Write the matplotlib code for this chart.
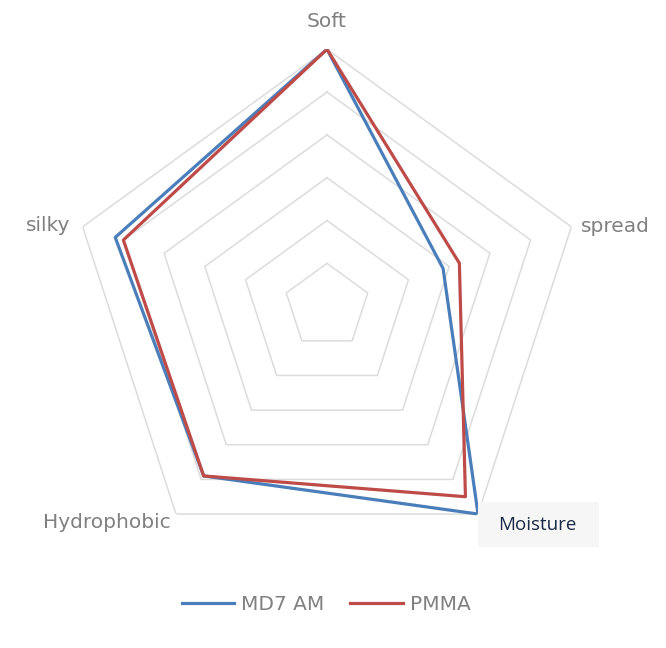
import numpy as np
import matplotlib
matplotlib.use("Agg")
import matplotlib.pyplot as plt
from matplotlib.patches import Rectangle

# radar chart data (0-6 scale, no ring labels shown)
categories = ["Soft", "spread", "Moisture", "Hydrophobic", "silky"]
md7_am = [6.0, 2.85, 6.0, 4.9, 5.2]
pmma = [6.0, 3.25, 5.5, 4.9, 5.0]
rings = [1, 2, 3, 4, 5, 6]

W, H = 666, 648
fig = plt.figure(figsize=(W / 100, H / 100), dpi=100)
ax = fig.add_axes([0.105, 0.131, 0.772, 0.793], projection="polar")
ax.set_theta_zero_location("N")
ax.set_theta_direction(-1)
ax.set_ylim(0, 6)
ax.grid(False)
ax.spines["polar"].set_visible(False)
ax.set_xticks([])
ax.set_yticks([])
ax.patch.set_alpha(0)

n = len(categories)
theta = np.linspace(0, 2 * np.pi, n, endpoint=False)
theta_c = np.append(theta, theta[0])

# pentagon grid rings
for r in rings:
    ax.plot(theta_c, [r] * (n + 1), color="#dcdcdc", lw=1.1, zorder=1)

# series
ax.plot(theta_c, md7_am + md7_am[:1], color="#4a7ebb", lw=2.3, zorder=3,
        label="MD7 AM")
ax.plot(theta_c, pmma + pmma[:1], color="#be4b48", lw=2.3, zorder=4,
        label="PMMA")

grey = "#808080"
fs = 14.5
# category labels, offset from the outer vertices
ax.annotate("Soft", xy=(theta[0], 6), xytext=(0, 22), textcoords="offset pixels",
            ha="center", va="baseline", color=grey, fontsize=fs)
ax.annotate("spread", xy=(theta[1], 6), xytext=(10, 0), textcoords="offset pixels",
            ha="left", va="center", color=grey, fontsize=fs)
ax.annotate("Hydrophobic", xy=(theta[3], 6), xytext=(-5, -8),
            textcoords="offset pixels", ha="right", va="center",
            color=grey, fontsize=fs)
ax.annotate("silky", xy=(theta[4], 6), xytext=(-12, 1),
            textcoords="offset pixels", ha="right", va="center",
            color=grey, fontsize=fs)

# selected label box for Moisture
box = Rectangle((478 / W, 1 - 547 / H), 121 / W, 45 / H,
                transform=fig.transFigure, facecolor="#f6f6f6",
                edgecolor="none", zorder=5, clip_on=False)
ax.add_artist(box)
ax.annotate("Moisture", xy=(theta[2], 6), xytext=(59, -11),
            textcoords="offset pixels", ha="center", va="center",
            color="#1a2947", fontsize=13.5, zorder=6,
            family=["Open Sans", "DejaVu Sans"])

leg = fig.legend(loc="center", bbox_to_anchor=(326 / W, 1 - 605 / H), ncol=2,
                 frameon=False, fontsize=fs, handlelength=2.6,
                 handletextpad=0.35, columnspacing=1.3)
for t in leg.get_texts():
    t.set_color(grey)

fig.savefig("out.png", dpi=100)
